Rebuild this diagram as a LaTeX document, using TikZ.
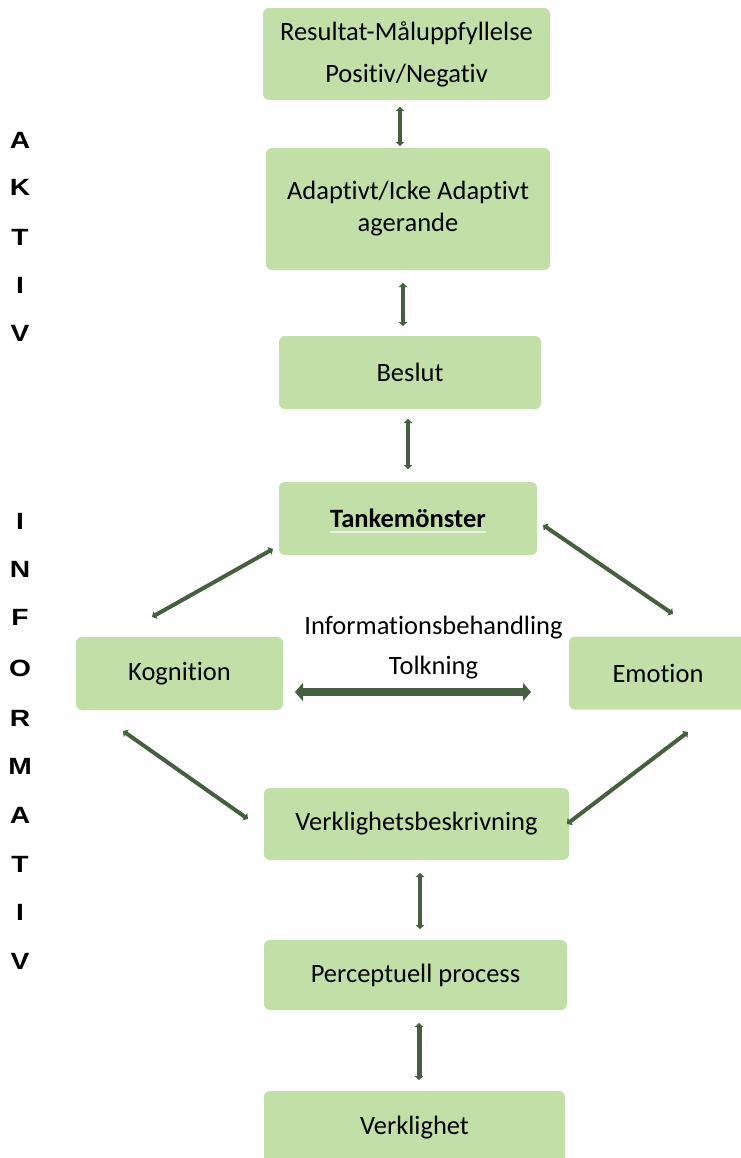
\documentclass[tikz,border=0pt]{standalone}
\usepackage{fontspec}
\setmainfont[Ligatures={NoCommon}]{Carlito}
\newfontfamily\lettfont{Liberation Sans}
\usetikzlibrary{arrows.meta}
\definecolor{boxfill}{HTML}{C3DFA8}
\definecolor{arrowc}{HTML}{455F40}
\definecolor{ulc}{HTML}{ECECE4}
\tikzset{
  box/.style={fill=boxfill, rounded corners=6pt, inner sep=0pt, align=center,
              font=\fontsize{26.5}{32}\selectfont},
  lbl/.style={inner sep=0pt, align=center, font=\fontsize{26.5}{32}\selectfont},
  conn/.style={draw=arrowc, line width=4pt,
               {Triangle[length=4pt,width=8.5pt]}-{Triangle[length=4pt,width=8.5pt]}},
  bigconn/.style={draw=arrowc, line width=8pt,
               {Triangle[length=8pt,width=18pt]}-{Triangle[length=8pt,width=18pt]}},
  letter/.style={inner sep=0pt, xscale=1.2, font=\lettfont\bfseries\fontsize{23.5}{23.5}\selectfont},
}
\begin{document}
\begin{tikzpicture}[x=1pt,y=-1pt]
\useasboundingbox (0,0) rectangle (740,1158);
% boxes
\node[box, minimum width=287, minimum height=92] (res) at (406.5,54) {Resultat-Måluppfyllelse\\[10pt]Positiv/Negativ};
\node[box, minimum width=284, minimum height=122] (ada) at (408,209) {Adaptivt/Icke Adaptivt\\agerande};
\node[box, minimum width=262, minimum height=73] (bes) at (410,372.5) {Beslut};
\node[box, minimum width=258, minimum height=73] (tan) at (408,518.5) {};
\node[lbl, font=\bfseries\fontsize{26.5}{32}\selectfont] (tantxt) at (408,518.5) {Tankemönster};
\draw[ulc, line width=1.6pt] ([yshift=-4pt]tantxt.base west) -- ([yshift=-4pt]tantxt.base east);
\node[box, minimum width=207, minimum height=73] (kog) at (179.5,673.5) {Kognition};
\node[box, minimum width=178, minimum height=73] (emo) at (658,673) {Emotion};
\node[box, minimum width=305, minimum height=72] (vbs) at (416.5,824) {Verklighetsbeskrivning};
\node[box, minimum width=303, minimum height=70] (per) at (415.5,975) {Perceptuell process};
\node[box, minimum width=301, minimum height=74] (ver) at (414.5,1128) {Verklighet};
% middle labels
\node[lbl] (info) at (433.5,628) {Informationsbehandling};
\node[lbl] (tolk) at (433.5,668) {Tolkning};
% connector end points
\coordinate (a12s) at (400,107);  \coordinate (a12e) at (400,146);
\coordinate (a23s) at (403,283);  \coordinate (a23e) at (403,326);
\coordinate (a34s) at (408,419);  \coordinate (a34e) at (408,469);
\coordinate (a78s) at (420,873);  \coordinate (a78e) at (420,929);
\coordinate (a89s) at (419,1023); \coordinate (a89e) at (419,1080);
\coordinate (tkls) at (273,549);  \coordinate (tkle) at (152,617);
\coordinate (tkrs) at (543,525);  \coordinate (tkre) at (673,614);
\coordinate (kvs) at (123,731);   \coordinate (kve) at (248,819);
\coordinate (evs) at (688,732);   \coordinate (eve) at (567,824);
\coordinate (bis) at (295,692);   \coordinate (bie) at (531,692);
% connectors
\draw[conn] (a12s) -- (a12e);
\draw[conn] (a23s) -- (a23e);
\draw[conn] (a34s) -- (a34e);
\draw[conn] (a78s) -- (a78e);
\draw[conn, line width=5pt] (a89s) -- (a89e);
\draw[conn] (tkls) -- (tkle);
\draw[conn] (tkrs) -- (tkre);
\draw[conn] (kvs) -- (kve);
\draw[conn] (evs) -- (eve);
\draw[bigconn] (bis) -- (bie);
% side letters
\node[letter] (l1) at (20,140) {A};
\node[letter] (l2) at (20,187) {K};
\node[letter] (l3) at (20,237) {T};
\node[letter] (l4) at (20,285) {I};
\node[letter] (l5) at (20,333) {V};
\node[letter] (m1) at (20,521) {I};
\node[letter] (m2) at (20,569) {N};
\node[letter] (m3) at (20,617) {F};
\node[letter] (m4) at (20,668) {O};
\node[letter] (m5) at (20,718) {R};
\node[letter] (m6) at (20,766) {M};
\node[letter] (m7) at (20,815) {A};
\node[letter] (m8) at (20,864) {T};
\node[letter] (m9) at (20,912) {I};
\node[letter] (m10) at (20,961) {V};
\end{tikzpicture}
\end{document}
